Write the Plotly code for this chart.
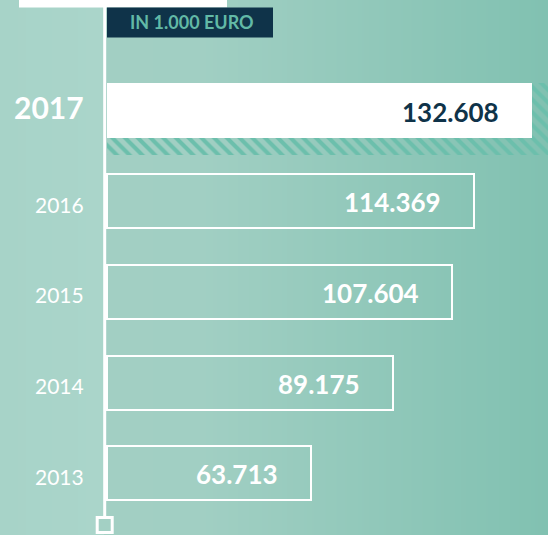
import base64
import struct
import zlib

import plotly.graph_objects as go

# ---- data ----
years = ["2013", "2014", "2015", "2016", "2017"]
values = [63.713, 89.175, 107.604, 114.369, 132.608]
value_labels = ["63.713", "89.175", "107.604", "114.369", "132.608"]
unit_label = "IN 1.000 EURO"
highlight_index = 4  # 2017

# ---- geometry / styling constants ----
W, H = 548, 535
PX = 3.205          # pixels per data unit on x
X0 = 107            # pixel position of x = 0
YC = 473.3          # pixel centre of first category
STEP = 90.7         # pixels between categories
BW = 0.6            # bar thickness (category units)
xr = [-X0 / PX, (W - X0) / PX]
yr = [(YC - H) / STEP, YC / STEP]


def py(p):  # pixel y -> paper y
    return 1 - p / H


def px(p):  # pixel x -> paper x
    return p / W


navy = "#0f3349"
teal_text = "#62b9a6"


# ---- background gradient as a tiny PNG (1 px tall, stretched) ----
def hex2rgb(h):
    h = h.lstrip("#")
    return tuple(int(h[i:i + 2], 16) for i in (0, 2, 4))


grad_stops = [(0, "#a7d3c8"), (103, "#aad5ca"), (104, "#a2cfc3"),
              (200, "#a1cfc3"), (547, "#81c1b1")]


def color_at(x):
    for (x0, c0), (x1, c1) in zip(grad_stops, grad_stops[1:]):
        if x0 <= x <= x1:
            t = 0 if x1 == x0 else (x - x0) / (x1 - x0)
            a, b = hex2rgb(c0), hex2rgb(c1)
            return tuple(round(a[k] + (b[k] - a[k]) * t) for k in range(3))
    return hex2rgb(grad_stops[-1][1])


def make_png(width):
    row = b"\x00" + b"".join(bytes(color_at(x)) for x in range(width))
    def chunk(tag, data):
        c = struct.pack(">I", len(data)) + tag + data
        return c + struct.pack(">I", zlib.crc32(tag + data) & 0xFFFFFFFF)
    ihdr = struct.pack(">IIBBBBB", width, 1, 8, 2, 0, 0, 0)
    png = b"\x89PNG\r\n\x1a\n" + chunk(b"IHDR", ihdr) + \
        chunk(b"IDAT", zlib.compress(row)) + chunk(b"IEND", b"")
    return "data:image/png;base64," + base64.b64encode(png).decode()


bg_src = make_png(W)

idx = list(range(len(years)))
fig = go.Figure()

# hatched shadow behind the highlighted bar (runs to the right edge)
hi = highlight_index
shadow_top = hi + BW / 2
shadow_bot = hi - BW / 2 - 17 / STEP
fig.add_trace(go.Bar(
    x=[xr[1] - 0.01], y=[(shadow_top + shadow_bot) / 2], base=0,
    width=shadow_top - shadow_bot, orientation="h",
    marker=dict(color="rgba(0,0,0,0)", line=dict(width=0),
                pattern=dict(shape="\\", fgcolor="#6cbfac", fgopacity=1,
                             bgcolor="rgba(0,0,0,0)", size=9, solidity=0.45)),
    hoverinfo="skip", showlegend=False))

# outlined bars (non-highlighted)
others = [i for i in idx if i != hi]
fig.add_trace(go.Bar(
    x=[values[i] for i in others], y=others, orientation="h", width=BW - 0.005,
    marker=dict(color="rgba(0,0,0,0)", line=dict(color="white", width=2)),
    hoverinfo="skip", showlegend=False))

# highlighted bar
fig.add_trace(go.Bar(
    x=[values[hi]], y=[hi], orientation="h", width=BW,
    marker=dict(color="white", line=dict(width=0)),
    hoverinfo="skip", showlegend=False))

# vertical axis line with square end
line_x = -2.3 / PX
sq_y = (YC - 525) / STEP
fig.add_trace(go.Scatter(
    x=[line_x, line_x], y=[yr[1] + 0.2, sq_y], mode="lines",
    line=dict(color="white", width=3), hoverinfo="skip", showlegend=False))
fig.add_trace(go.Scatter(
    x=[line_x], y=[sq_y], mode="markers",
    marker=dict(symbol="square", size=15, color="#a3d0c4",
                line=dict(color="white", width=3)),
    hoverinfo="skip", showlegend=False))

annotations = []
# value labels
for i in idx:
    annotations.append(dict(
        x=values[i], y=i, xref="x", yref="y", text=value_labels[i],
        xanchor="right", yanchor="middle", xshift=-31, yshift=-1,
        showarrow=False,
        font=dict(family="Lato", size=26, weight="bold",
                  color=navy if i == hi else "white")))
# year labels
for i in idx:
    annotations.append(dict(
        x=px(86), y=i, xref="paper", yref="y", text=years[i],
        xanchor="right", yanchor="middle", yshift=-3 if i != hi else 4,
        showarrow=False,
        font=dict(family="Lato", size=30 if i == hi else 21,
                  weight="bold" if i == hi else "normal", color="white")))
# unit label
annotations.append(dict(
    x=px(192), y=py(22.5), xref="paper", yref="paper", text=unit_label,
    xanchor="center", yanchor="middle", showarrow=False,
    font=dict(family="Lato", size=18, weight="bold", color=teal_text)))

shapes = [
    dict(type="rect", xref="paper", yref="paper", x0=px(19), x1=px(227),
         y0=py(7.5), y1=py(-5), fillcolor="white", line=dict(width=0), layer="above"),
    dict(type="rect", xref="paper", yref="paper", x0=px(107), x1=px(273),
         y0=py(37.5), y1=py(7.5), fillcolor=navy, line=dict(width=0), layer="above"),
]

fig.update_layout(
    width=W, height=H, margin=dict(l=0, r=0, t=0, b=0),
    barmode="overlay", bargap=0,
    paper_bgcolor="#9ccdc0", plot_bgcolor="rgba(0,0,0,0)",
    xaxis=dict(range=xr, visible=False, fixedrange=True),
    yaxis=dict(range=yr, visible=False, fixedrange=True),
    images=[dict(source=bg_src, xref="paper", yref="paper", x=0, y=1,
                 sizex=1, sizey=1, sizing="stretch", xanchor="left",
                 yanchor="top", layer="below")],
    showlegend=False, annotations=annotations, shapes=shapes,
    hovermode=False,
)

fig.write_html("out.html", config={"displayModeBar": False},
               post_script="document.body.style.margin='0';")
